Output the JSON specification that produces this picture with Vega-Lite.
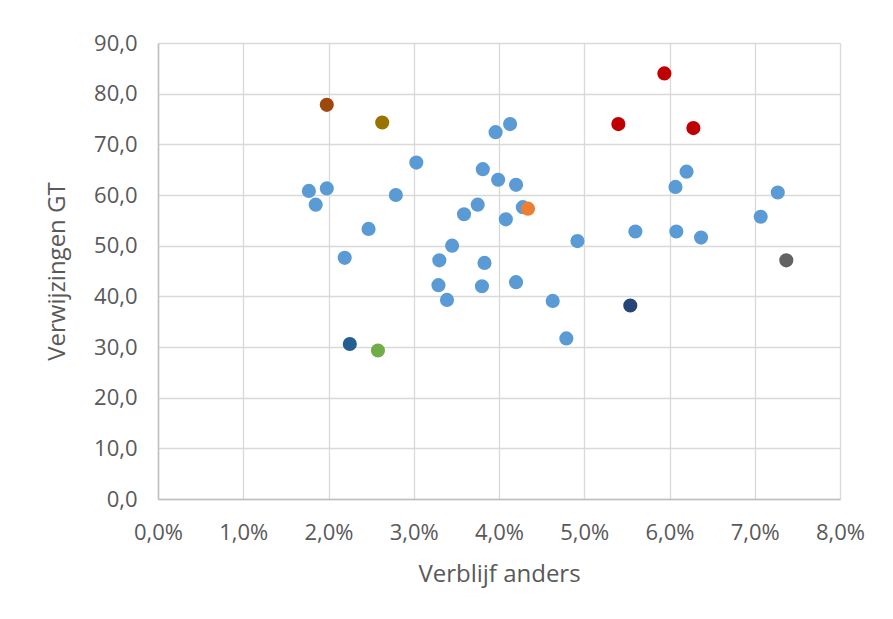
{
  "$schema": "https://vega.github.io/schema/vega-lite/v6.json",
  "width": 682,
  "height": 456,
  "autosize": {"type": "none"},
  "padding": {"left": 158, "top": 43, "right": 53, "bottom": 120},
  "background": "white",
  "config": {
    "view": {"stroke": null},
    "axis": {
      "gridColor": "#D9D9D9",
      "gridWidth": 1.3,
      "domainColor": "#BFBFBF",
      "domainWidth": 1.5,
      "ticks": false,
      "labelFlush": false,
      "labelOverlap": false,
      "labelFont": "Open Sans",
      "labelFontSize": 22,
      "labelColor": "#595959",
      "titleFont": "Open Sans",
      "titleFontSize": 24,
      "titleFontWeight": "normal",
      "titleColor": "#595959"
    }
  },
  "data": {
    "values": [
      {"x": 0.0303, "y": 66.4, "g": "blue"},
      {"x": 0.0177, "y": 60.8, "g": "blue"},
      {"x": 0.0198, "y": 61.3, "g": "blue"},
      {"x": 0.0185, "y": 58.1, "g": "blue"},
      {"x": 0.0279, "y": 60.0, "g": "blue"},
      {"x": 0.0247, "y": 53.3, "g": "blue"},
      {"x": 0.0219, "y": 47.6, "g": "blue"},
      {"x": 0.0330, "y": 47.1, "g": "blue"},
      {"x": 0.0329, "y": 42.2, "g": "blue"},
      {"x": 0.0339, "y": 39.3, "g": "blue"},
      {"x": 0.0345, "y": 50.0, "g": "blue"},
      {"x": 0.0413, "y": 74.0, "g": "blue"},
      {"x": 0.0396, "y": 72.4, "g": "blue"},
      {"x": 0.0381, "y": 65.1, "g": "blue"},
      {"x": 0.0399, "y": 63.0, "g": "blue"},
      {"x": 0.0420, "y": 62.0, "g": "blue"},
      {"x": 0.0620, "y": 64.6, "g": "blue"},
      {"x": 0.0607, "y": 61.6, "g": "blue"},
      {"x": 0.0727, "y": 60.5, "g": "blue"},
      {"x": 0.0375, "y": 58.1, "g": "blue"},
      {"x": 0.0359, "y": 56.2, "g": "blue"},
      {"x": 0.0428, "y": 57.6, "g": "blue"},
      {"x": 0.0408, "y": 55.2, "g": "blue"},
      {"x": 0.0707, "y": 55.7, "g": "blue"},
      {"x": 0.0560, "y": 52.8, "g": "blue"},
      {"x": 0.0608, "y": 52.8, "g": "blue"},
      {"x": 0.0637, "y": 51.6, "g": "blue"},
      {"x": 0.0492, "y": 50.9, "g": "blue"},
      {"x": 0.0383, "y": 46.6, "g": "blue"},
      {"x": 0.0380, "y": 42.0, "g": "blue"},
      {"x": 0.0420, "y": 42.8, "g": "blue"},
      {"x": 0.0463, "y": 39.1, "g": "blue"},
      {"x": 0.0479, "y": 31.7, "g": "blue"},
      {"x": 0.0434, "y": 57.3, "g": "orange"},
      {"x": 0.0198, "y": 77.8, "g": "brown"},
      {"x": 0.0263, "y": 74.3, "g": "olive"},
      {"x": 0.0594, "y": 84.0, "g": "red"},
      {"x": 0.0540, "y": 74.0, "g": "red"},
      {"x": 0.0628, "y": 73.2, "g": "red"},
      {"x": 0.0737, "y": 47.1, "g": "gray"},
      {"x": 0.0554, "y": 38.2, "g": "navy"},
      {"x": 0.0225, "y": 30.6, "g": "darkblue"},
      {"x": 0.0258, "y": 29.3, "g": "green"}
    ]
  },
  "mark": {"type": "circle", "size": 200, "opacity": 1},
  "encoding": {
    "x": {
      "field": "x",
      "type": "quantitative",
      "scale": {"domain": [0, 0.08], "nice": false, "zero": false},
      "axis": {
        "values": [0, 0.01, 0.02, 0.03, 0.04, 0.05, 0.06, 0.07, 0.08],
        "labelExpr": "replace(format(datum.value, '.1%'), '.', ',')",
        "labelPadding": 23,
        "titlePadding": 19,
        "title": "Verblijf anders"
      }
    },
    "y": {
      "field": "y",
      "type": "quantitative",
      "scale": {"domain": [0, 90], "nice": false},
      "axis": {
        "values": [0, 10, 20, 30, 40, 50, 60, 70, 80, 90],
        "labelExpr": "replace(format(datum.value, '.1f'), '.', ',')",
        "labelPadding": 21,
        "titlePadding": 24,
        "title": "Verwijzingen GT"
      }
    },
    "color": {
      "field": "g",
      "type": "nominal",
      "scale": {
        "domain": ["blue", "orange", "brown", "olive", "red", "gray", "navy", "darkblue", "green"],
        "range": ["#5B9BD5", "#ED7D31", "#9E480E", "#997300", "#C00000", "#636363", "#264478", "#255E91", "#70AD47"]
      },
      "legend": null
    }
  }
}
